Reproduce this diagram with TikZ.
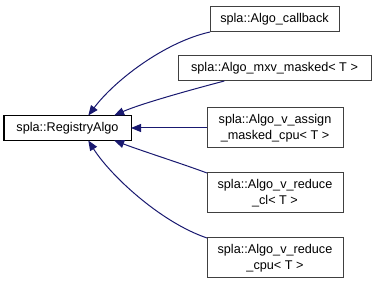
\documentclass[tikz,border=0pt]{standalone}
\usepackage{fontspec}
\setmainfont{Liberation Sans}
\usetikzlibrary{arrows.meta}
\definecolor{edgeblue}{RGB}{25,25,112}
\definecolor{boxgrey}{RGB}{64,64,64}
\tikzset{
  cls/.style={draw=boxgrey, fill=white, line width=0.75pt, inner sep=0pt, outer sep=0pt,
    align=center, minimum height=18.75pt, font=\fontsize{9.5}{12.4}\selectfont},
  inh/.style={draw=edgeblue, line width=0.75pt, {Triangle[length=7.5pt,width=6pt]}-},
}
\begin{document}
\begin{tikzpicture}[x=0.75pt,y=0.75pt,yscale=-1,xscale=1]
    \useasboundingbox (0,0) rectangle (376,285);
    % base class
    \node[cls, draw=black, minimum width=95.25pt] (reg) at (67.5,128) {spla::RegistryAlgo};
    % derived classes
    \node[cls, minimum width=96.75pt] (cb) at (274.5,19.5) {spla::Algo\_callback};
    \node[cls, minimum width=144.75pt] (mxv) at (274.5,68.5) {spla::Algo\_mxv\_masked< T >};
    \node[cls, minimum width=102pt, minimum height=30pt] (asg) at (275,128) {spla::Algo\_v\_assign\\\_masked\_cpu< T >};
    \node[cls, minimum width=102pt, minimum height=30pt] (rcl) at (275,193) {spla::Algo\_v\_reduce\\\_cl< T >};
    \node[cls, minimum width=102pt, minimum height=30pt] (rcpu) at (275,258) {spla::Algo\_v\_reduce\\\_cpu< T >};
    % inheritance edges
    \draw[inh] (reg.31) .. controls (115,80) and (165,42) .. (cb.south west);
    \draw[inh] (reg.15) .. controls (140,104) and (190,90) .. (mxv.194);
    \draw[inh] (reg.east) -- (asg.west);
    \draw[inh] (reg.-15) .. controls (145,152) and (180,163) .. (rcl.north west);
    \draw[inh] (reg.-31) .. controls (110,175) and (160,222) .. (rcpu.north west);
\end{tikzpicture}
\end{document}
